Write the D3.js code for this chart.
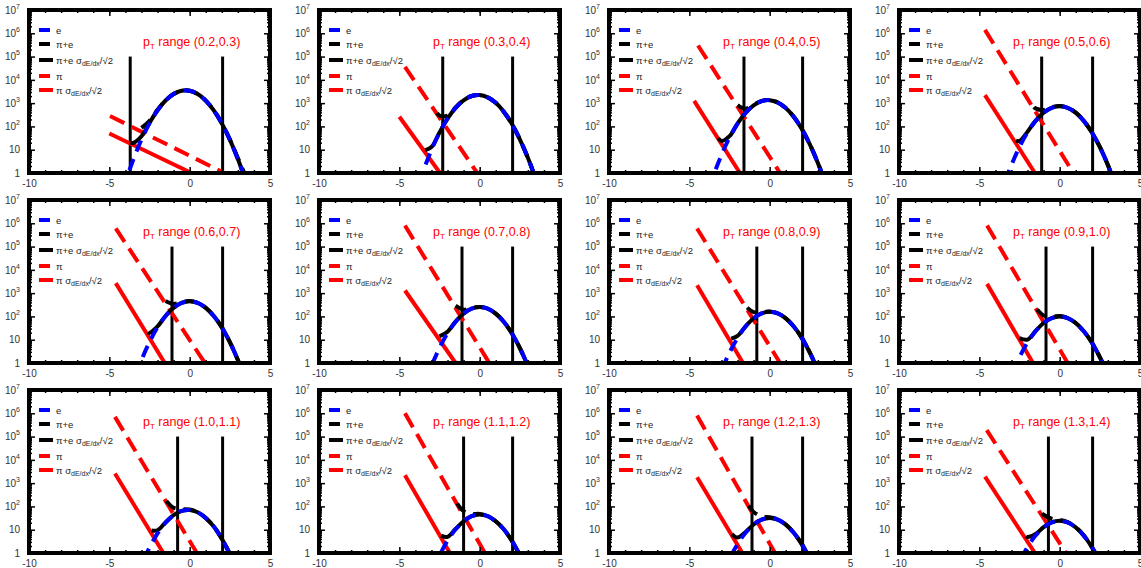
<!DOCTYPE html>
<html><head><meta charset="utf-8">
<script src="https://cdn.jsdelivr.net/npm/d3@7"></script>
<style>
body{margin:0;background:#fff;}
svg{display:block;font-family:"Liberation Sans",Arial,Helvetica,sans-serif;}
</style></head><body>
<svg id="chart" width="1141" height="568"></svg>
<script>
// ---------------- data ----------------
const panelTitles = ["(0.2,0.3)","(0.3,0.4)","(0.4,0.5)","(0.5,0.6)",
                     "(0.6,0.7)","(0.7,0.8)","(0.8,0.9)","(0.9,1.0)",
                     "(1.0,1.1)","(1.1,1.2)","(1.2,1.3)","(1.3,1.4)"];
const xTicks = [-10, -5, 0, 5];
const yTicks = [1, 10, 1e2, 1e3, 1e4, 1e5, 1e6, 1e7];
const legendLabels = ["e", "π+e", "π+e σ", "π", "π σ"];

// electron curve, sampled at eX, one row per panel
const eX = [-4.5,-4,-3.5,-3,-2.5,-2,-1.5,-1,-0.5,0,0.5,1,1.5,2,2.5,3,3.5,4];
const eCurves = [
  [0.03,0.41,3.9,27,135,490,1290,2460,3400,3400,2460,1290,490,135,27,3.9,0.41,0.03],
  [0.008,0.12,1.28,9.8,54,217,631,1330,2020,2220,1770,1030,430,130,28,4.5,0.52,0.04],
  [0.005,0.07,0.77,5.9,33,131,380,800,1220,1340,1070,618,258,78,17,2.7,0.31,0.026],
  [0.0015,0.024,0.27,2.2,13.1,56,173,389,631,741,631,389,173,56,13.1,2.2,0.27,0.024],
  [0.001,0.015,0.16,1.34,7.9,34,104,234,380,447,380,234,104,34,7.9,1.34,0.16,0.015],
  [0.0005,0.008,0.092,0.75,4.4,19,59,132,214,251,214,132,59,19,4.4,0.75,0.092,0.008],
  [0.0003,0.005,0.058,0.47,2.8,12,37,83,135,158,135,83,37,12,2.8,0.47,0.058,0.005],
  [0.0002,0.003,0.037,0.3,1.77,7.6,23,52,85,100,85,52,23,7.6,1.77,0.3,0.037,0.003],
  [0.0003,0.004,0.04,0.31,1.7,6.9,20,42,64,70,56,32,13.6,4.1,0.9,0.14,0.016,0.0014],
  [0.0001,0.0014,0.016,0.13,0.79,3.4,10.4,23,38,45,38,23,10.4,3.4,0.79,0.13,0.016,0.0014],
  [0.00007,0.001,0.012,0.094,0.56,2.4,7.4,16.6,27,32,27,16.6,7.4,2.4,0.56,0.094,0.012,0.001],
  [0.00005,0.0008,0.009,0.072,0.42,1.8,5.6,12.6,20.4,24,20.4,12.6,5.6,1.8,0.42,0.072,0.009,0.0008]
];
// pion lines: [x start, value at start, x where value reaches 1]
const piDashed = [
  [-4.96,280,2.15],[-4.65,36000,-0.15],[-4.46,3e5,0.65],[-4.65,1.4e6,0.85],
  [-4.6,6e5,0.95],[-4.65,8e5,0.6],[-4.52,6e5,0.65],[-4.52,8e5,0.5],
  [-4.65,7e5,0.45],[-4.65,1e6,0.33],[-4.52,8e5,0.33],[-4.54,1.9e5,0.4]
];
const piSolid = [
  [-5,50,0.12],[-5,260,-2.47],[-4.7,1250,-1.85],[-4.65,2200,-1.54],
  [-4.6,2700,-1.55],[-4.65,1300,-1.5],[-4.52,2200,-1.66],[-4.52,2500,-1.66],
  [-4.65,2600,-1.64],[-4.65,2200,-1.85],[-4.52,1800,-1.7],[-4.65,1900,-1.54]
];
const cutLow  = [-3.7,-2.3,-1.6,-1.12,-1.1,-1.1,-0.8,-0.85,-0.75,-1.0,-1.1,-0.7];
const cutHigh = [2.05,2.05,2.05,2.05,2.05,2.05,2.05,2.05,2.05,2.05,2.05,2.05];
const sumSolidStart  = [-3.7,-3.4,-3.2,-2.72,-2.6,-2.5,-2.4,-2.5,-2.37,-2.4,-2.35,-2.1];
const sumDashedStart = [-3.0,-2.65,-2.0,-1.6,-1.5,-1.5,-1.4,-1.4,-1.45,-1.4,-1.3,-1.1];

// ---------------- drawing ----------------
const BLUE = "#0000ff", RED = "#ff0000", BLACK = "#000";
const svg = d3.select("#chart");
const PW = 241, PH = 163;

function logLine(seg, xq) { // value on a straight line in log space
  const f = (xq - seg[0]) / (seg[2] - seg[0]);
  return Math.pow(10, Math.log10(seg[1]) * (1 - f));
}
function eAt(vals, xq) {
  const i = d3.bisectRight(eX, xq) - 1;
  if (i < 0) return vals[0];
  if (i >= eX.length - 1) return vals[eX.length - 1];
  const f = (xq - eX[i]) / (eX[i+1] - eX[i]);
  return Math.pow(10, Math.log10(vals[i]) * (1 - f) + Math.log10(vals[i+1]) * f);
}

panelTitles.forEach((title, i) => {
  const r = Math.floor(i / 4), c = i % 4;
  const left = 29 + 290 * c, top = 10 + 190 * r;
  const x = d3.scaleLinear().domain([-10, 5]).range([left, left + PW]);
  const y = d3.scaleLog().domain([1, 1e7]).range([top + PH, top]);
  const g = svg.append("g");
  const clipId = "clip" + i;
  g.append("clipPath").attr("id", clipId).append("rect")
    .attr("x", left).attr("y", top).attr("width", PW).attr("height", PH);
  const plot = g.append("g").attr("clip-path", `url(#${clipId})`);
  const line = d3.line().x(d => x(d[0])).y(d => y(d[1])).curve(d3.curveCatmullRom);

  // cut lines
  [cutLow[i], cutHigh[i]].forEach(v => {
    plot.append("line").attr("x1", x(v)).attr("x2", x(v))
      .attr("y1", y(1)).attr("y2", y(1e5))
      .attr("stroke", BLACK).attr("stroke-width", 3);
  });

  const eVals = eCurves[i];
  const ePts = eX.map((v, k) => [v, eVals[k]]);
  const pd = piDashed[i], ps = piSolid[i];

  // pion lines
  plot.append("path").datum([[ps[0], ps[1]], [ps[2], 1]]).attr("d", line)
    .attr("fill", "none").attr("stroke", RED).attr("stroke-width", 4);
  plot.append("path").datum([[pd[0], pd[1]], [pd[2], 1]]).attr("d", line)
    .attr("fill", "none").attr("stroke", RED).attr("stroke-width", 4)
    .attr("stroke-dasharray", "16,8");

  // pion + electron sums
  const sDash = [sumDashedStart[i], ...eX.filter(v => v > sumDashedStart[i])]
    .map(v => [v, eAt(eVals, v) + logLine(pd, v)]);
  plot.append("path").datum(sDash).attr("d", line)
    .attr("fill", "none").attr("stroke", BLACK).attr("stroke-width", 4)
    .attr("stroke-dasharray", "12,8");
  const sSolid = [sumSolidStart[i], ...eX.filter(v => v > sumSolidStart[i])]
    .map(v => [v, eAt(eVals, v) + logLine(ps, v)]);
  plot.append("path").datum(sSolid).attr("d", line)
    .attr("fill", "none").attr("stroke", BLACK).attr("stroke-width", 4);

  // electrons
  plot.append("path").datum(ePts).attr("d", line)
    .attr("fill", "none").attr("stroke", BLUE).attr("stroke-width", 4)
    .attr("stroke-dasharray", "12,8");

  // axes
  const minorX = d3.range(-10, 6, 1);
  const minorY = [];
  for (let d = 1; d < 1e7; d *= 10) for (let m = 2; m <= 9; m++) minorY.push(d * m);
  const axStyle = sel => { sel.select(".domain").remove();
    sel.selectAll("line").attr("stroke", BLACK).attr("stroke-width", 1.5); };

  g.append("g").attr("transform", `translate(0,${top + PH})`)
    .call(d3.axisBottom(x).tickValues(minorX).tickSize(-3).tickFormat("")).call(axStyle);
  g.append("g").attr("transform", `translate(0,${top})`)
    .call(d3.axisTop(x).tickValues(minorX).tickSize(-3).tickFormat("")).call(axStyle);
  g.append("g").attr("transform", `translate(0,${top})`)
    .call(d3.axisTop(x).tickValues(xTicks).tickSize(-6).tickFormat("")).call(axStyle);
  const bx = g.append("g").attr("transform", `translate(0,${top + PH})`)
    .call(d3.axisBottom(x).tickValues(xTicks).tickSize(-6).tickPadding(5).tickFormat(d => String(d)))
    .call(axStyle);
  bx.selectAll("text").attr("font-size", 10).attr("fill", "#333").attr("dy", "0.9em");

  g.append("g").attr("transform", `translate(${left},0)`)
    .call(d3.axisLeft(y).tickValues(minorY).tickSize(-3).tickFormat("")).call(axStyle);
  g.append("g").attr("transform", `translate(${left + PW},0)`)
    .call(d3.axisRight(y).tickValues(minorY).tickSize(-3).tickFormat("")).call(axStyle);
  g.append("g").attr("transform", `translate(${left + PW},0)`)
    .call(d3.axisRight(y).tickValues(yTicks).tickSize(-6).tickFormat("")).call(axStyle);
  const ly = g.append("g").attr("transform", `translate(${left},0)`)
    .call(d3.axisLeft(y).tickValues(yTicks).tickSize(-6).tickPadding(9).tickFormat(""))
    .call(axStyle);
  ly.selectAll(".tick text").each(function(d) {
    const t = d3.select(this).attr("font-size", 10).attr("fill", "#333").attr("dy", "0.32em");
    if (d < 100) { t.text(String(d)); }
    else {
      t.append("tspan").text("10");
      t.append("tspan").attr("dy", -5).attr("font-size", 7).text(String(Math.round(Math.log10(d))));
    }
  });

  // frame
  g.append("rect").attr("x", left).attr("y", top).attr("width", PW).attr("height", PH)
    .attr("fill", "none").attr("stroke", BLACK).attr("stroke-width", 4);

  // legend
  const legStyles = [
    {color: BLUE, dash: "11,20"}, {color: BLACK, dash: "11,20"}, {color: BLACK, dash: null},
    {color: RED, dash: "11,20"}, {color: RED, dash: null}];
  const legY = [20, 34, 50, 66, 80];
  legendLabels.forEach((lab, k) => {
    const yy = top + legY[k];
    const ln = g.append("line").attr("x1", left + 10).attr("x2", left + 24)
      .attr("y1", yy).attr("y2", yy).attr("stroke", legStyles[k].color).attr("stroke-width", 4);
    if (legStyles[k].dash) ln.attr("stroke-dasharray", legStyles[k].dash);
    const t = g.append("text").attr("x", left + 27).attr("y", yy + 3.5)
      .attr("font-size", 9.5).attr("fill", "#222").text(lab);
    if (k === 2 || k === 4) {
      t.append("tspan").attr("dy", 2.5).attr("font-size", 7).text("dE/dx");
      t.append("tspan").attr("dy", -2.5).text("/√2");
    }
  });

  // title
  const tt = g.append("text").attr("x", left + 114).attr("y", top + 36)
    .attr("font-size", 12.5).attr("fill", RED);
  tt.append("tspan").text("p");
  tt.append("tspan").attr("dy", 3).attr("font-size", 8).text("T");
  tt.append("tspan").attr("dy", -3).text(" range " + title);
});
</script>
</body></html>
